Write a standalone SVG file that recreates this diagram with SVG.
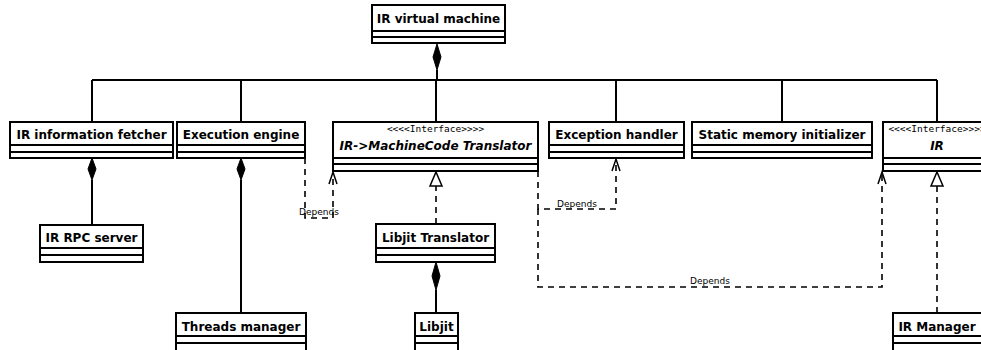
<svg xmlns="http://www.w3.org/2000/svg" width="981" height="350" viewBox="0 0 981 350">
<defs>
<style>
.box{fill:#fff;stroke:#000;stroke-width:2}
.ln{fill:none;stroke:#000;stroke-width:2}
.dash{fill:none;stroke:#000;stroke-width:1.6;stroke-dasharray:6,5}
.t{font-family:"DejaVu Sans",sans-serif;font-weight:bold;font-size:12px;text-anchor:middle}
.ti{font-family:"DejaVu Sans",sans-serif;font-weight:bold;font-style:italic;font-size:12px;text-anchor:middle}
.st{font-family:"DejaVu Sans Mono",monospace;font-size:9.5px;text-anchor:middle}
.lb{font-family:"DejaVu Sans",sans-serif;font-size:9px;text-anchor:middle}
.dia{fill:#000;stroke:#000;stroke-width:1}
.tri{fill:#fff;stroke:#000;stroke-width:1.5}
.opn{fill:none;stroke:#000;stroke-width:1.5}
</style>
</defs>
<g id="connectors">
<path class="ln" d="M92,80 H937 M437,70 V80 M92,80 V122 M241,80 V122 M436,80 V122 M616,80 V122 M782,80 V122 M937,80 V122"/>
<polygon class="dia" points="437,44 441,57 437,70 433,57"/>
<path class="ln" d="M92,180 V225"/>
<polygon class="dia" points="92,158 96,169 92,180 88,169"/>
<path class="ln" d="M241,180 V313"/>
<polygon class="dia" points="241,158 245,169 241,180 237,169"/>
<path class="ln" d="M436,290 V313"/>
<polygon class="dia" points="436,262 440,276 436,290 432,276"/>
<path class="dash" d="M436,224 V184"/>
<polygon class="tri" points="436,172 442,186 430,186"/>
<path class="dash" d="M937,313 V184"/>
<polygon class="tri" points="937,172 943,186 931,186"/>
<path class="dash" d="M305,158 V218 H333 V173"/>
<path class="opn" d="M329,184 L333,172 L337,184"/>
<text class="lb" x="319" y="215">Depends</text>
<path class="dash" d="M538,171 V209 H616 V160"/>
<path class="opn" d="M612,171 L616,159 L620,171"/>
<text class="lb" x="577" y="207">Depends</text>
<path class="dash" d="M538,209 V287 H882 V173"/>
<path class="opn" d="M878,184 L882,172 L886,184"/>
<text class="lb" x="710" y="284">Depends</text>
</g>
<g id="ir-virtual-machine">
<rect class="box" x="372" y="5" width="133" height="38"/>
<path class="ln" d="M372,31 H505 M372,37 H505"/>
<text class="t" x="438.5" y="23">IR virtual machine</text>
</g>
<g id="ir-information-fetcher">
<rect class="box" x="10" y="122" width="163" height="36"/>
<path class="ln" d="M10,145 H173 M10,152 H173"/>
<text class="t" x="91.5" y="139">IR information fetcher</text>
</g>
<g id="execution-engine">
<rect class="box" x="177" y="122" width="128" height="36"/>
<path class="ln" d="M177,145 H305 M177,152 H305"/>
<text class="t" x="241" y="139">Execution engine</text>
</g>
<g id="translator-interface">
<rect class="box" x="333" y="122" width="205" height="49"/>
<path class="ln" d="M333,158 H538 M333,164 H538"/>
<text class="st" x="435.5" y="132">&lt;&lt;&lt;&lt;Interface&gt;&gt;&gt;&gt;</text>
<text class="ti" x="435.5" y="150">IR-&gt;MachineCode Translator</text>
</g>
<g id="exception-handler">
<rect class="box" x="549" y="122" width="135" height="36"/>
<path class="ln" d="M549,145 H684 M549,152 H684"/>
<text class="t" x="616.5" y="139">Exception handler</text>
</g>
<g id="static-memory-initializer">
<rect class="box" x="692" y="122" width="180" height="36"/>
<path class="ln" d="M692,145 H872 M692,152 H872"/>
<text class="t" x="782" y="139">Static memory initializer</text>
</g>
<g id="ir-interface">
<rect class="box" x="883" y="122" width="110" height="49"/>
<path class="ln" d="M883,158 H993 M883,164 H993"/>
<text class="st" x="937" y="132">&lt;&lt;&lt;&lt;Interface&gt;&gt;&gt;&gt;</text>
<text class="ti" x="937" y="150">IR</text>
</g>
<g id="ir-rpc-server">
<rect class="box" x="40" y="225" width="103" height="37"/>
<path class="ln" d="M40,248 H143 M40,255 H143"/>
<text class="t" x="91.5" y="242">IR RPC server</text>
</g>
<g id="threads-manager">
<rect class="box" x="176" y="313" width="130" height="45"/>
<path class="ln" d="M176,336 H306 M176,343 H306"/>
<text class="t" x="241" y="331">Threads manager</text>
</g>
<g id="libjit-translator">
<rect class="box" x="376" y="224" width="119" height="38"/>
<path class="ln" d="M376,248 H495 M376,255 H495"/>
<text class="t" x="435.5" y="242">Libjit Translator</text>
</g>
<g id="libjit">
<rect class="box" x="415" y="313" width="43" height="45"/>
<path class="ln" d="M415,336 H458 M415,343 H458"/>
<text class="t" x="436.5" y="331">Libjit</text>
</g>
<g id="ir-manager">
<rect class="box" x="893" y="313" width="100" height="45"/>
<path class="ln" d="M893,336 H993 M893,343 H993"/>
<text class="t" x="937" y="331">IR Manager</text>
</g>
</svg>
